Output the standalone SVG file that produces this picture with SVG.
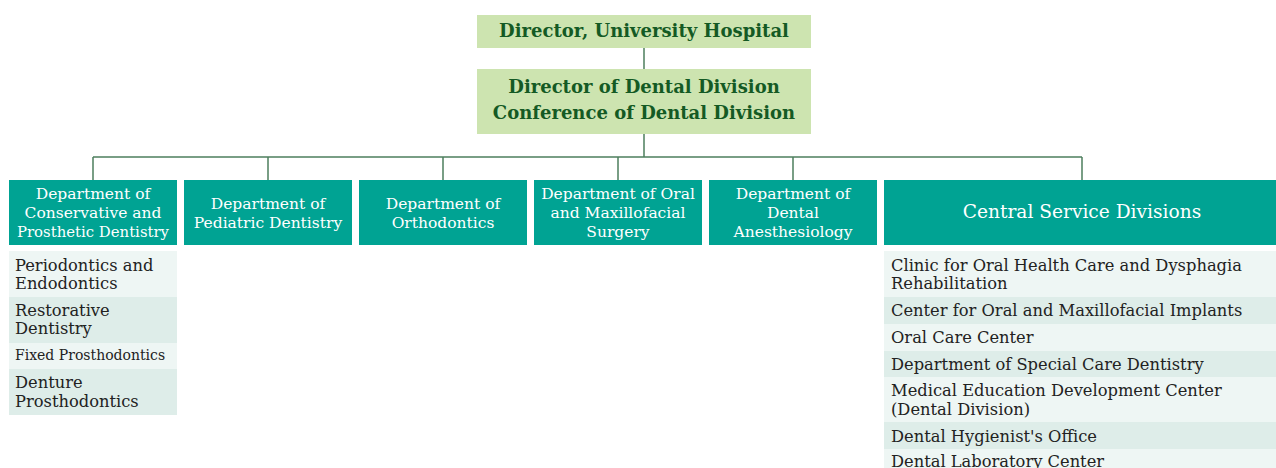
<svg xmlns="http://www.w3.org/2000/svg" width="1276" height="468" viewBox="0 0 1276 468">
<style>
.top{fill:#cde4b0}
.tt{font-family:"DejaVu Serif",serif;font-weight:bold;font-size:18px;fill:#145a24;text-anchor:middle}
.dept{fill:#00a393}
.dt{font-family:"DejaVu Serif",serif;font-size:15.5px;fill:#ffffff;text-anchor:middle}
.l{fill:#eef6f4}
.d{fill:#deede9}
.it{font-family:"DejaVu Serif",serif;font-size:16.3px;fill:#222222}
.con{stroke:#4e7f5e;stroke-width:1.5;fill:none}
</style>
<rect width="1276" height="468" fill="#ffffff"/>
<g id="connectors">
<path class="con" d="M644 48V69M644 134V157M93 157H1082M93 157V180M268 157V180M443 157V180M618 157V180M793 157V180M1082 157V180"/>
</g>
<g id="director">
<rect class="top" x="477" y="15" width="334" height="33"/>
<text class="tt" x="644" y="37">Director, University Hospital</text>
</g>
<g id="dental-division">
<rect class="top" x="477" y="69" width="334" height="65"/>
<text class="tt" x="644" y="93">Director of Dental Division</text>
<text class="tt" x="644" y="119">Conference of Dental Division</text>
</g>
<g id="dept-conservative">
<rect class="dept" x="9" y="180" width="168" height="65"/>
<text class="dt" x="93" y="199">Department of</text>
<text class="dt" x="93" y="218">Conservative and</text>
<text class="dt" x="93" y="237" textLength="152" lengthAdjust="spacingAndGlyphs">Prosthetic Dentistry</text>
</g>
<g id="dept-pediatric">
<rect class="dept" x="184" y="180" width="168" height="65"/>
<text class="dt" x="268" y="209">Department of</text>
<text class="dt" x="268" y="228">Pediatric Dentistry</text>
</g>
<g id="dept-orthodontics">
<rect class="dept" x="359" y="180" width="168" height="65"/>
<text class="dt" x="443" y="209">Department of</text>
<text class="dt" x="443" y="228">Orthodontics</text>
</g>
<g id="dept-oral-surgery">
<rect class="dept" x="534" y="180" width="168" height="65"/>
<text class="dt" x="618" y="199">Department of Oral</text>
<text class="dt" x="618" y="218">and Maxillofacial</text>
<text class="dt" x="618" y="237">Surgery</text>
</g>
<g id="dept-anesthesiology">
<rect class="dept" x="709" y="180" width="168" height="65"/>
<text class="dt" x="793" y="199">Department of</text>
<text class="dt" x="793" y="218">Dental</text>
<text class="dt" x="793" y="237">Anesthesiology</text>
</g>
<g id="central-service">
<rect class="dept" x="884" y="180" width="392" height="65"/>
<text class="dt" x="1082" y="218" style="font-size:18.6px">Central Service Divisions</text>
</g>
<g id="conservative-sub">
<rect class="l" x="9" y="251" width="168" height="46"/>
<text class="it" x="15" y="271">Periodontics and</text>
<text class="it" x="15" y="289">Endodontics</text>
<rect class="d" x="9" y="297" width="168" height="46"/>
<text class="it" x="15" y="316">Restorative</text>
<text class="it" x="15" y="334">Dentistry</text>
<rect class="l" x="9" y="343" width="168" height="26"/>
<text class="it" x="15" y="360" style="font-size:14px">Fixed Prosthodontics</text>
<rect class="d" x="9" y="369" width="168" height="46"/>
<text class="it" x="15" y="388">Denture</text>
<text class="it" x="15" y="407">Prosthodontics</text>
</g>
<g id="central-sub">
<rect class="l" x="884" y="251" width="392" height="46"/>
<text class="it" x="891" y="271">Clinic for Oral Health Care and Dysphagia</text>
<text class="it" x="891" y="289">Rehabilitation</text>
<rect class="d" x="884" y="297" width="392" height="27"/>
<text class="it" x="891" y="316">Center for Oral and Maxillofacial Implants</text>
<rect class="l" x="884" y="324" width="392" height="27"/>
<text class="it" x="891" y="343">Oral Care Center</text>
<rect class="d" x="884" y="351" width="392" height="26"/>
<text class="it" x="891" y="370">Department of Special Care Dentistry</text>
<rect class="l" x="884" y="377" width="392" height="45"/>
<text class="it" x="891" y="396">Medical Education Development Center</text>
<text class="it" x="891" y="415">(Dental Division)</text>
<rect class="d" x="884" y="422" width="392" height="27"/>
<text class="it" x="891" y="442">Dental Hygienist's Office</text>
<rect class="l" x="884" y="449" width="392" height="19"/>
<text class="it" x="891" y="467">Dental Laboratory Center</text>
</g>
</svg>
